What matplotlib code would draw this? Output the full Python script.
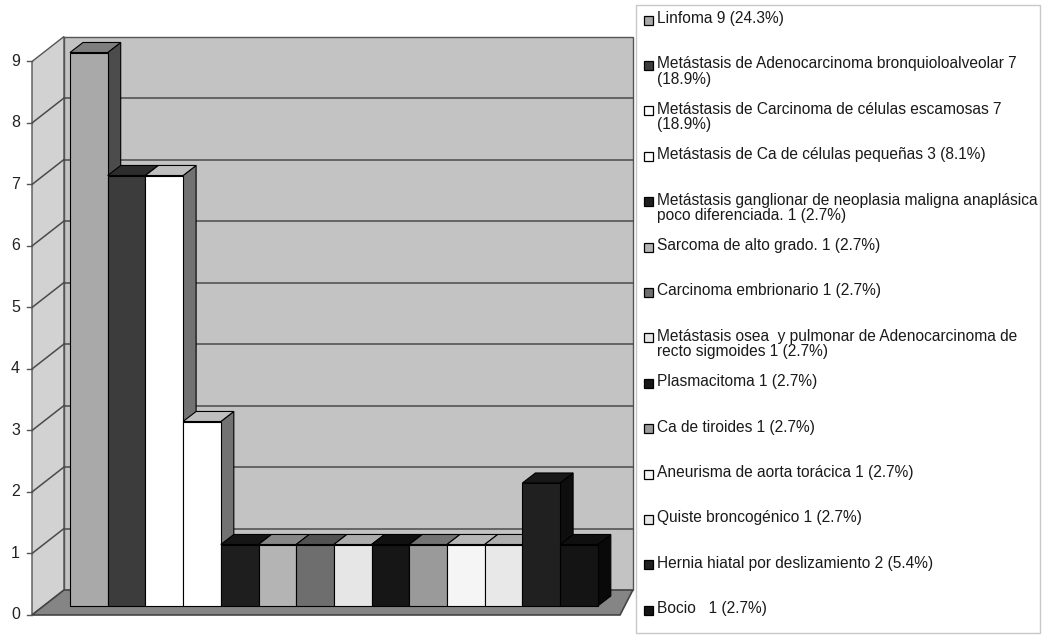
import matplotlib.pyplot as plt
from matplotlib.patches import Polygon, Rectangle

plt.rcParams['font.family'] = ['Liberation Sans', 'DejaVu Sans']

# data
counts = [9, 7, 7, 3, 1, 1, 1, 1, 1, 1, 1, 1, 2, 1]
labels = [
    "Linfoma 9 (24.3%)",
    "Metástasis de Adenocarcinoma bronquioloalveolar 7\n(18.9%)",
    "Metástasis de Carcinoma de células escamosas 7\n(18.9%)",
    "Metástasis de Ca de células pequeñas 3 (8.1%)",
    "Metástasis ganglionar de neoplasia maligna anaplásica\npoco diferenciada. 1 (2.7%)",
    "Sarcoma de alto grado. 1 (2.7%)",
    "Carcinoma embrionario 1 (2.7%)",
    "Metástasis osea  y pulmonar de Adenocarcinoma de\nrecto sigmoides 1 (2.7%)",
    "Plasmacitoma 1 (2.7%)",
    "Ca de tiroides 1 (2.7%)",
    "Aneurisma de aorta torácica 1 (2.7%)",
    "Quiste broncogénico 1 (2.7%)",
    "Hernia hiatal por deslizamiento 2 (5.4%)",
    "Bocio   1 (2.7%)",
]
bar_colors = ['#a9a9a9', '#3c3c3c', '#ffffff', '#ffffff', '#1e1e1e', '#b4b4b4', '#6e6e6e',
              '#e6e6e6', '#161616', '#9a9a9a', '#f5f5f5', '#e8e8e8', '#202020', '#141414']
yticks = list(range(0, 10))


def shade(c, f):
    r, g, b = [int(c[k:k + 2], 16) for k in (1, 3, 5)]
    return '#%02x%02x%02x' % (int(r * f), int(g * f), int(b * f))


fig = plt.figure(figsize=(10.45, 6.38), dpi=100)
ax = fig.add_axes([0, 0, 1, 1])
# 1 bar = 37.7 px wide, 1 unit = 61.5 px tall
ax.set_xlim(-70 / 37.7, 975 / 37.7)
ax.set_ylim(-32 / 61.5, 606 / 61.5)
ax.axis('off')

# box of the 3d chart (front plane / back wall)
fx0, bx0, bx1, fx1 = -1.008, -0.159, 14.93, 14.59
fy, by = -0.146, 0.26
top = max(yticks)
ddx, ddy = 0.345, 0.163   # depth of each bar

ax.add_patch(Polygon([(fx0, fy), (bx0, by), (bx0, top + by), (fx0, top + fy)],
                     facecolor='#d2d2d2', edgecolor='#555555', lw=1, zorder=1))
ax.add_patch(Polygon([(bx0, by), (bx1, by), (bx1, top + by), (bx0, top + by)],
                     facecolor='#c3c3c3', edgecolor='#555555', lw=1, zorder=1))
ax.add_patch(Polygon([(fx0, fy), (fx1, fy), (bx1, by), (bx0, by)],
                     facecolor='#858585', edgecolor='#444444', lw=1.2, zorder=1))

for v in yticks[1:-1]:
    ax.plot([bx0, bx1], [v + by, v + by], color='#4a4a4a', lw=1.1, zorder=2)
    ax.plot([fx0, bx0], [v + fy, v + by], color='#4a4a4a', lw=1.1, zorder=2)

for v in yticks:
    ax.plot([fx0 - 0.13, fx0], [v + fy, v + fy], color='#555555', lw=1, zorder=2)
    ax.text(fx0 - 0.44, v + fy, str(v), ha='center', va='center', fontsize=11.5, color='#222222')

# bars, drawn left to right so the next bar hides the side of the one before
for i, (v, c) in enumerate(zip(counts, bar_colors)):
    z = 3 + 3 * i
    side = [(i + 1, 0), (i + 1 + ddx, ddy), (i + 1 + ddx, v + ddy), (i + 1, v)]
    cap = [(i, v), (i + 1, v), (i + 1 + ddx, v + ddy), (i + ddx, v + ddy)]
    ax.add_patch(Polygon(side, facecolor=shade(c, 0.45), edgecolor='black', lw=0.8, zorder=z))
    ax.add_patch(Polygon(cap, facecolor=shade(c, 0.75), edgecolor='black', lw=0.8, zorder=z + 1))
    ax.bar(i, v, width=1, align='edge', color=c, edgecolor='black', lw=0.8, zorder=z + 2)

# legend, in pixel coordinates
lax = fig.add_axes([0, 0, 1, 1])
lax.set_xlim(0, 1045)
lax.set_ylim(638, 0)
lax.axis('off')
lax.add_patch(Rectangle((636, 5), 404, 628, facecolor='white', edgecolor='#c8c8c8', lw=1))
for i, (lab, c) in enumerate(zip(labels, bar_colors)):
    y = 20 + i * 45.4
    lax.add_patch(Rectangle((643.5, y - 4.5), 9, 9, facecolor=c, edgecolor='black', lw=0.9))
    lax.text(657, y - 9, lab, ha='left', va='top', fontsize=11.2, color='#1a1a1a',
             linespacing=1.05)

fig.savefig('out.png', dpi=100)
